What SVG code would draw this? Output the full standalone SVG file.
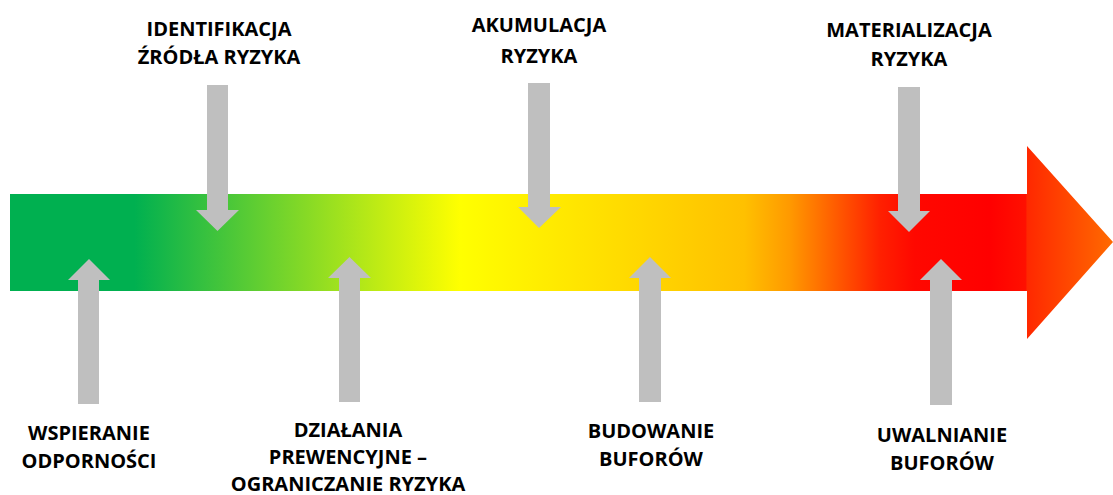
<svg xmlns="http://www.w3.org/2000/svg" width="1113" height="495" viewBox="0 0 1113 495">
<style>
.lbl{font-family:"Open Sans","DejaVu Sans",sans-serif;font-weight:700;font-size:20px;fill:#000;text-anchor:middle}
.gray{fill:#bfbfbf}
</style>
<defs>
<linearGradient id="g" gradientUnits="userSpaceOnUse" x1="10" y1="0" x2="1113" y2="0">
<stop offset="0" stop-color="#00b050"/>
<stop offset="0.113" stop-color="#00b050"/>
<stop offset="0.408" stop-color="#ffff00"/>
<stop offset="0.666" stop-color="#ffc000"/>
<stop offset="0.707" stop-color="#ff9900"/>
<stop offset="0.789" stop-color="#ff2000"/>
<stop offset="0.82" stop-color="#ff0800"/>
<stop offset="0.888" stop-color="#ff0000"/>
<stop offset="0.921" stop-color="#ff1000"/>
<stop offset="0.922" stop-color="#ff2800"/>
<stop offset="1" stop-color="#ff6a00"/>
</linearGradient>
</defs>
<g id="timeline">
<polygon points="10,194 1027,194 1027,146 1113,242 1027,339 1027,291 10,291" fill="url(#g)"/>
</g>
<g id="connectors">
<polygon class="gray" points="207,85 228,85 228,210 239,210 217.5,231 196,210 207,210"/>
<polygon class="gray" points="528,83 550,83 550,207 561,207 539,228 518,207 528,207"/>
<polygon class="gray" points="898,87 920,87 920,211 930,211 909,232 888,211 898,211"/>
<polygon class="gray" points="78,404 99,404 99,280 110,280 89,259 68,280 78,280"/>
<polygon class="gray" points="339,402 360,402 360,278 371,278 349.5,257 328,278 339,278"/>
<polygon class="gray" points="639,402 661,402 661,278 671,278 650,257 629,278 639,278"/>
<polygon class="gray" points="930,405 952,405 952,280 962,280 941,259 920,280 930,280"/>
</g>
<g id="n-identyfikacja"><text class="lbl" x="219" y="36">IDENTIFIKACJA</text><text class="lbl" x="219" y="64">ŹRÓDŁA RYZYKA</text></g>
<g id="n-akumulacja"><text class="lbl" x="539" y="32">AKUMULACJA</text><text class="lbl" x="539" y="63">RYZYKA</text></g>
<g id="n-materializacja"><text class="lbl" x="909" y="37">MATERIALIZACJA</text><text class="lbl" x="909" y="66">RYZYKA</text></g>
<g id="n-wspieranie"><text class="lbl" x="89" y="440">WSPIERANIE</text><text class="lbl" x="89" y="468">ODPORNOŚCI</text></g>
<g id="n-dzialania"><text class="lbl" x="348" y="437">DZIAŁANIA</text><text class="lbl" x="348" y="464">PREWENCYJNE –</text><text class="lbl" x="348" y="491">OGRANICZANIE RYZYKA</text></g>
<g id="n-budowanie"><text class="lbl" x="651" y="438">BUDOWANIE</text><text class="lbl" x="651" y="466">BUFORÓW</text></g>
<g id="n-uwalnianie"><text class="lbl" x="942" y="442">UWALNIANIE</text><text class="lbl" x="942" y="470">BUFORÓW</text></g>
</svg>
